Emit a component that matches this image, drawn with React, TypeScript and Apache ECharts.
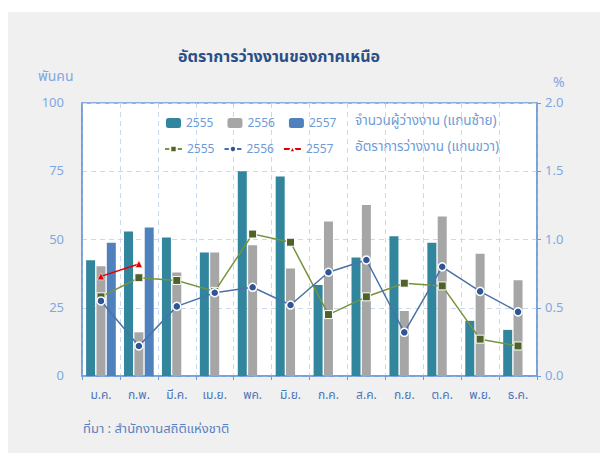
import React, { useEffect, useRef } from "react";
import * as echarts from "echarts";

const months = ["ม.ค.", "ก.พ.", "มี.ค.", "เม.ย.", "พค.", "มิ.ย.", "ก.ค.", "ส.ค.", "ก.ย.", "ต.ค.", "พ.ย.", "ธ.ค."];
const unemployed2555 = [42.4, 52.9, 50.7, 45.2, 75.0, 73.1, 33.3, 43.4, 51.2, 48.8, 20.2, 16.9];
const unemployed2556 = [40.2, 16.0, 37.9, 45.2, 47.9, 39.4, 56.6, 62.6, 23.8, 58.4, 44.8, 35.1];
const unemployed2557 = [48.8, 54.4, null, null, null, null, null, null, null, null, null, null];
const rate2555 = [0.58, 0.72, 0.70, 0.62, 1.04, 0.98, 0.45, 0.58, 0.68, 0.66, 0.27, 0.22];
const rate2556 = [0.55, 0.22, 0.51, 0.61, 0.65, 0.52, 0.76, 0.85, 0.32, 0.80, 0.62, 0.47];
const rate2557 = [0.73, 0.82, null, null, null, null, null, null, null, null, null, null];
const leftTicks = [0, 25, 50, 75, 100];
const rightTicks = [0, 0.5, 1.0, 1.5, 2.0];

const FONT = "Tahoma, 'Noto Sans Thai', 'Noto Sans', 'DejaVu Sans', sans-serif";
const AXIS_BLUE = "#6f9bd6";
const LABEL_BLUE = "#7fa7e2";

export default function App() {
  const ref = useRef<HTMLDivElement>(null);
  useEffect(() => {
    if (!ref.current) return;
    const chart = echarts.init(ref.current, undefined, { renderer: "svg" });
    const barNames = ["b2555", "b2556", "b2557"];
    const lineNames = ["l2555", "l2556", "l2557"];
    chart.setOption({
      animation: false,
      backgroundColor: "#ffffff",
      textStyle: { fontFamily: FONT },
      graphic: [
        { type: "rect", z: -10, shape: { x: 8, y: 12, width: 592, height: 441 }, style: { fill: "#f0f0f0" } },
        { type: "text", left: 178, top: 49, style: { text: "อัตราการว่างงานของภาคเหนือ", fontSize: 16, fontWeight: "bold", fill: "#2a4f86", fontFamily: FONT } },
        { type: "text", left: 38, top: 69, style: { text: "พันคน", fontSize: 14, fill: LABEL_BLUE, fontFamily: FONT } },
        { type: "text", left: 553, top: 75, style: { text: "%", fontSize: 14, fill: LABEL_BLUE, fontFamily: FONT } },
        { type: "text", left: 355, top: 114, style: { text: "จำนวนผู้ว่างงาน (แกนซ้าย)", fontSize: 13.5, fill: AXIS_BLUE, fontFamily: FONT } },
        { type: "text", left: 355, top: 140, style: { text: "อัตราการว่างงาน (แกนขวา)", fontSize: 13.5, fill: AXIS_BLUE, fontFamily: FONT } },
        { type: "text", left: 83, top: 422, style: { text: "ที่มา : สำนักงานสถิติแห่งชาติ", fontSize: 13, fill: "#5b80c0", fontFamily: FONT } },
      ],
      grid: {
        left: 82, right: 63, top: 103, bottom: 77,
        show: true, backgroundColor: "#ffffff", borderColor: AXIS_BLUE, borderWidth: 1.5,
      },
      legend: [
        {
          data: barNames, left: 161, top: 112, itemWidth: 15, itemHeight: 10, itemGap: 14,
          formatter: (n: string) => n.slice(1),
          textStyle: { fontSize: 12, color: AXIS_BLUE, fontFamily: FONT },
        },
        {
          data: lineNames, left: 159, top: 138, itemWidth: 17, itemHeight: 8, itemGap: 9,
          formatter: (n: string) => n.slice(1),
          textStyle: { fontSize: 12, color: AXIS_BLUE, fontFamily: FONT },
        },
      ],
      xAxis: {
        type: "category",
        data: months,
        boundaryGap: true,
        axisLine: { lineStyle: { color: AXIS_BLUE, width: 1.5 } },
        axisTick: { show: true, length: 4, lineStyle: { color: AXIS_BLUE } },
        axisLabel: { color: "#4f74b8", fontSize: 12, margin: 13, fontFamily: FONT },
        splitLine: { show: true, lineStyle: { color: "#c9daf0", type: [5, 4] } },
      },
      yAxis: [
        {
          type: "value", min: leftTicks[0], max: leftTicks[leftTicks.length - 1], interval: 25,
          axisLine: { show: true, lineStyle: { color: AXIS_BLUE, width: 1.5 } },
          axisTick: { show: false },
          axisLabel: { color: LABEL_BLUE, fontSize: 13, margin: 18, fontFamily: FONT },
          splitLine: { show: true, lineStyle: { color: "#c9daf0", type: [5, 4] } },
        },
        {
          type: "value", min: rightTicks[0], max: rightTicks[rightTicks.length - 1], interval: 0.5,
          axisLine: { show: true, lineStyle: { color: AXIS_BLUE, width: 1.5 } },
          axisTick: { show: true, length: 4, lineStyle: { color: AXIS_BLUE } },
          axisLabel: { color: LABEL_BLUE, fontSize: 13, margin: 8, fontFamily: FONT, formatter: (v: number) => v.toFixed(1) },
          splitLine: { show: false },
        },
      ],
      series: [
        { name: "b2555", type: "bar", data: unemployed2555, barWidth: 9, barGap: "15%", itemStyle: { color: "#31859c" } },
        { name: "b2556", type: "bar", data: unemployed2556, barWidth: 9, barGap: "15%", itemStyle: { color: "#a6a6a6" } },
        { name: "b2557", type: "bar", data: unemployed2557, barWidth: 9, barGap: "15%", itemStyle: { color: "#4f81bd" } },
        {
          name: "l2555", type: "line", yAxisIndex: 1, data: rate2555, symbol: "rect", symbolSize: 8,
          lineStyle: { color: "#77933c", width: 1.5 },
          itemStyle: { color: "#4f6228", borderColor: "#ffffff", borderWidth: 1 },
        },
        {
          name: "l2556", type: "line", yAxisIndex: 1, data: rate2556, symbol: "circle", symbolSize: 8,
          lineStyle: { color: "#4a72a8", width: 1.5 },
          itemStyle: { color: "#2f5597", borderColor: "#ffffff", borderWidth: 1.5 },
        },
        {
          name: "l2557", type: "line", yAxisIndex: 1, data: rate2557, symbol: "triangle", symbolSize: 7,
          lineStyle: { color: "#e00000", width: 1.5 },
          itemStyle: { color: "#e00000", borderColor: "#ffffff", borderWidth: 0.5 },
        },
      ],
    });
    return () => chart.dispose();
  }, []);
  return <div ref={ref} style={{ position: "absolute", left: 0, top: 0, width: 600, height: 453 }} />;
}
